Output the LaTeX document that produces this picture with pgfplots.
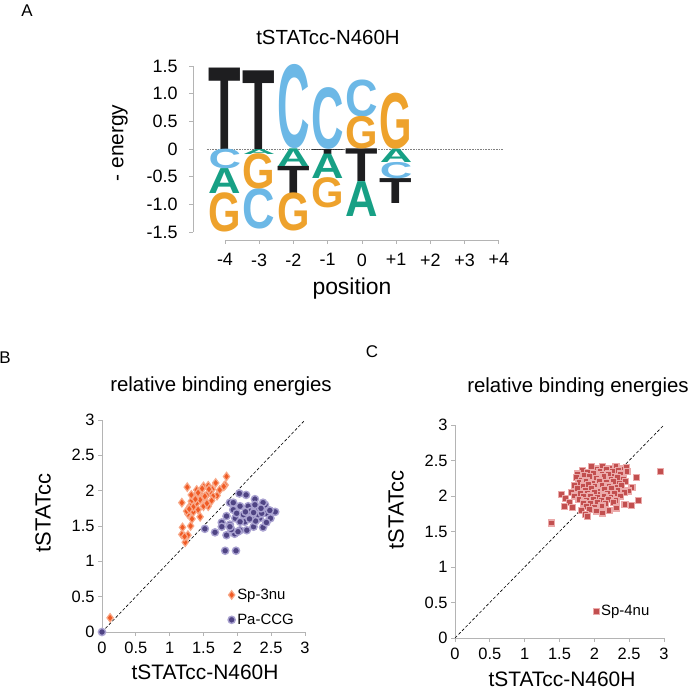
\documentclass[border=0pt]{standalone}
\usepackage{fontspec}
\setmainfont{Liberation Sans}
\usepackage{pgfplots}
\pgfplotsset{compat=1.18}

\definecolor{logoT}{HTML}{1E1E20}
\definecolor{logoC}{HTML}{6CB8E6}
\definecolor{logoG}{HTML}{EEA22C}
\definecolor{logoA}{HTML}{17A085}
\definecolor{axgray}{HTML}{B4B4B4}
\definecolor{spred}{HTML}{F05A24}
\definecolor{spglow}{HTML}{F8A888}
\definecolor{papurple}{HTML}{4F4484}
\definecolor{paglow}{HTML}{A9A2D0}
\definecolor{sq}{HTML}{C24F4F}
\definecolor{sqglow}{HTML}{EBAAAA}

\newlength\yu \setlength\yu{55.36bp}
\newcommand\fs[1]{\fontsize{#1}{#1}\selectfont}

% one letter of the logo per row: x = position, y = bottom of letter, h = height
\pgfplotsset{
  logo/.style 2 args={only marks, mark=text, text mark={},
    point meta=explicit symbolic,
    nodes near coords={\resizebox{32.5bp}{\pgfplotspointmeta\yu}{\bfseries #1}},
    every node near coord/.append style={text=#2, anchor=south, inner sep=0pt, outer sep=0pt}},
  dotlegend/.style={legend image code/.code={\draw[##1] plot coordinates {(0bp,0bp)};}},
  scat/.style={at={(#1)}, anchor=south west, scale only axis,
    xmin=0, xmax=3, ymin=0, ymax=3, clip=false,
    axis x line*=bottom, axis y line*=left,
    axis line style={axgray, line width=0.8bp, -},
    tick style={axgray, line width=0.8bp}, tick align=outside, major tick length=4bp,
    xtick={0,0.5,1,1.5,2,2.5,3}, xticklabels={0,0.5,1,1.5,2,2.5,3},
    ytick={0,0.5,1,1.5,2,2.5,3}, yticklabels={0,0.5,1,1.5,2,2.5,3},
    ticklabel style={font=\fs{16.5}}, xticklabel style={yshift=-3bp},
    legend cell align=left,
    legend style={draw=none, fill=none, font=\fs{15}, row sep=9bp, inner sep=0pt}},
}

\pgfplotstableread{
x y h
-4 0 1.47
-3 0 1.42
-2 -0.81 0.49
-1 -0.09 0.09
0 -0.59 0.59
1 -0.98 0.45
}\tT
\pgfplotstableread{
x y h
-4 -0.35 0.35
-3 -1.44 0.72
-2 0 1.50
-1 0 1.10
0 0.58 0.66
1 -0.53 0.29
}\tC
\pgfplotstableread{
x y h
-4 -1.50 0.70
-3 -0.72 0.63
-2 -1.49 0.68
-1 -1.07 0.54
0 0 0.58
1 0 1.00
}\tG
\pgfplotstableread{
x y h
-4 -0.80 0.45
-3 -0.09 0.09
-2 -0.32 0.32
-1 -0.53 0.44
0 -1.22 0.63
1 -0.24 0.24
}\tA

\begin{document}
\begin{tikzpicture}
\path[use as bounding box] (0,0) rectangle (692bp,690bp);

% ---------- A: energy logo ----------
\begin{axis}[at={(193bp,450bp)}, anchor=south west, scale only axis,
  width=310bp, height=174bp,
  xmin=-4.934, xmax=4.12, ymin=-1.643, ymax=1.5, clip=false,
  axis x line*=bottom, axis y line*=left, axis line style={draw=none},
  xtick={-4,-3,-2,-1,0,1,2,3,4}, xticklabels={-4,-3,-2,-1,0,+1,+2,+3,+4},
  ytick={-1.5,-1,-0.5,0,0.5,1,1.5}, yticklabels={-1.5,-1.0,-0.5,0,0.5,1.0,1.5},
  tick align=outside, major tick length=4bp, tick style={axgray, line width=0.8bp},
  ticklabel style={font=\fs{18}},
  yticklabel style={xshift=-8bp}, xticklabel style={yshift=-6bp}]
\draw[axgray, line width=0.8bp] (axis cs:-4.934,-1.5) -- (axis cs:-4.934,1.5);
\draw[axgray, line width=0.8bp] (axis cs:-4,-1.643) -- (axis cs:4,-1.643);
\addplot[densely dotted, gray, line width=0.6bp] coordinates {(-4.53,0) (4.12,0)};
\addplot[logo={T}{logoT}] table[x=x, y=y, meta=h] {\tT};
\addplot[logo={C}{logoC}] table[x=x, y=y, meta=h] {\tC};
\addplot[logo={G}{logoG}] table[x=x, y=y, meta=h] {\tG};
\addplot[logo={A}{logoA}] table[x=x, y=y, meta=h] {\tA};
\end{axis}
\node[font=\fs{20.5}] at (328bp,653bp) {tSTATcc-N460H};
\node[font=\fs{21}, rotate=90] at (120bp,547bp) {- energy};
\node[font=\fs{23}] at (352bp,401bp) {position};
\node[font=\fs{17}] at (27bp,679bp) {A};

% ---------- B ----------
\begin{axis}[scat={102bp,58bp}, width=203bp, height=212bp,
  legend style={at={(axis cs:1.86,0.64)}, anchor=north west}]
\addplot[densely dashed, black, line width=0.6bp, forget plot] coordinates {(0,0) (3,3)};
\addplot[only marks, dotlegend, mark=diamond*, mark size=4.2bp,
  mark options={fill=spred, draw=spglow, line width=1.2bp}] coordinates {
(0.12,0.20) (1.18,1.83) (1.26,2.05) (1.19,1.48) (1.18,1.38) (1.27,1.37)
(1.23,1.27) (1.27,1.67) (1.31,1.50) (1.84,2.20) (1.82,2.08) (1.68,2.11)
(1.50,2.06) (1.57,2.07) (1.63,2.02) (1.70,1.93) (1.45,1.96) (1.37,1.92)
(1.32,1.85) (1.40,1.82) (1.47,1.89) (1.55,1.94) (1.57,1.78) (1.50,1.78)
(1.42,1.73) (1.35,1.70) (1.45,1.63) (1.55,1.82) (1.64,1.92) (1.74,2.01)
(1.30,1.78) (1.45,1.87) (1.40,2.01) (1.32,1.94) (1.60,1.99) (1.52,1.92)
(1.35,1.77) (1.25,1.71) (1.33,1.60) (1.38,1.88) (1.48,2.03) (1.62,1.86)
(1.22,1.35) (1.42,1.97) (1.58,2.02) (1.80,2.06) (1.29,1.74)};
\addlegendentry{Sp-3nu}
\addplot[only marks, dotlegend, mark=*, mark size=3.6bp,
  mark options={fill=papurple, draw=paglow, line width=1.4bp}] coordinates {
(0,0) (1.89,1.83) (2.03,1.96) (2.13,1.94) (1.52,1.46) (1.67,1.41)
(1.96,1.39) (1.82,1.15) (1.98,1.15) (2.56,1.70) (2.41,1.80) (2.26,1.88)
(2.38,1.48) (2.24,1.49) (2.11,1.56) (2.04,1.44) (1.89,1.52) (1.77,1.55)
(1.84,1.64) (1.94,1.73) (2.04,1.78) (2.16,1.78) (2.29,1.73) (2.43,1.68)
(2.33,1.61) (2.21,1.63) (2.09,1.66) (1.97,1.61) (2.04,1.56) (1.91,1.45)
(2.19,1.71) (2.31,1.66) (2.38,1.83) (2.26,1.80) (2.48,1.72) (2.49,1.61)
(2.14,1.44) (1.94,1.83) (2.36,1.68) (1.84,1.37) (1.77,1.49) (1.89,1.49)
(2.01,1.42) (2.27,1.57) (2.35,1.75) (2.18,1.60) (2.43,1.55) (1.99,1.68)
(2.12,1.70) (2.24,1.69)};
\addlegendentry{Pa-CCG}
\end{axis}
\node[font=\fs{20.5}] at (221bp,304bp) {relative binding energies};
\node[font=\fs{22}, rotate=90] at (43bp,177bp) {tSTATcc};
\node[font=\fs{21}] at (205bp,17.5bp) {tSTATcc-N460H};
\node[font=\fs{17}] at (5bp,332bp) {B};

% ---------- C ----------
\begin{axis}[scat={455bp,52bp}, width=209bp, height=213bp,
  legend style={at={(axis cs:1.98,0.49)}, anchor=north west}]
\addplot[densely dashed, black, line width=0.6bp, forget plot] coordinates {(0,0) (3,3)};
\addplot[only marks, dotlegend, mark=square*, mark size=3.0bp,
  mark options={fill=sq, draw=sqglow, line width=1.2bp}] coordinates {
(1.96,2.41) (2.05,2.38) (2.12,2.41) (2.22,2.39) (2.31,2.42) (2.40,2.38) (2.46,2.40)
(1.83,2.36) (1.90,2.33) (2.08,2.35) (2.17,2.37) (2.26,2.34) (2.35,2.36)
(1.76,2.31) (1.86,2.29) (1.99,2.32) (2.11,2.30) (2.20,2.31) (2.29,2.28) (2.38,2.31) (2.47,2.34)
(1.74,2.26) (1.81,2.22) (1.93,2.27) (2.03,2.25) (2.14,2.27) (2.24,2.23) (2.33,2.26) (2.42,2.24) (2.60,2.26)
(1.78,2.19) (1.88,2.21) (1.97,2.18) (2.07,2.21) (2.17,2.19) (2.27,2.20) (2.36,2.18) (2.45,2.20)
(1.71,2.15) (1.84,2.14) (1.92,2.16) (2.01,2.13) (2.11,2.15) (2.21,2.14) (2.30,2.12) (2.39,2.15) (2.54,2.12)
(1.76,2.10) (1.87,2.08) (1.96,2.10) (2.05,2.07) (2.15,2.09) (2.25,2.11) (2.34,2.08) (2.49,2.07)
(1.67,2.05) (1.80,2.04) (1.90,2.03) (2.00,2.05) (2.09,2.02) (2.19,2.04) (2.29,2.03) (2.43,2.05)
(1.53,2.02) (1.72,2.00) (1.85,1.99) (1.95,2.00) (2.04,1.98) (2.14,2.00) (2.24,1.98) (2.37,2.00)
(1.59,1.96) (1.78,1.95) (1.89,1.94) (1.99,1.95) (2.10,1.94) (2.20,1.95) (2.31,1.94) (2.63,1.94)
(1.64,1.91) (1.84,1.90) (1.94,1.89) (2.05,1.91) (2.16,1.89) (2.27,1.91) (2.44,1.88) (2.53,1.87)
(1.57,1.85) (1.69,1.84) (1.89,1.85) (2.00,1.84) (2.11,1.86) (2.32,1.83)
(1.81,1.80) (1.93,1.81) (2.03,1.79) (2.21,1.80)
(1.87,1.74) (2.12,1.76) (1.90,1.71)
(1.38,1.62) (2.95,2.34)};
\addlegendentry{Sp-4nu}
\end{axis}
\node[font=\fs{20.5}] at (578bp,303bp) {relative binding energies};
\node[font=\fs{22}, rotate=90] at (396bp,180bp) {tSTATcc};
\node[font=\fs{21}] at (562bp,11bp) {tSTATcc-N460H};
\node[font=\fs{17}] at (372bp,338bp) {C};
\end{tikzpicture}
\end{document}
